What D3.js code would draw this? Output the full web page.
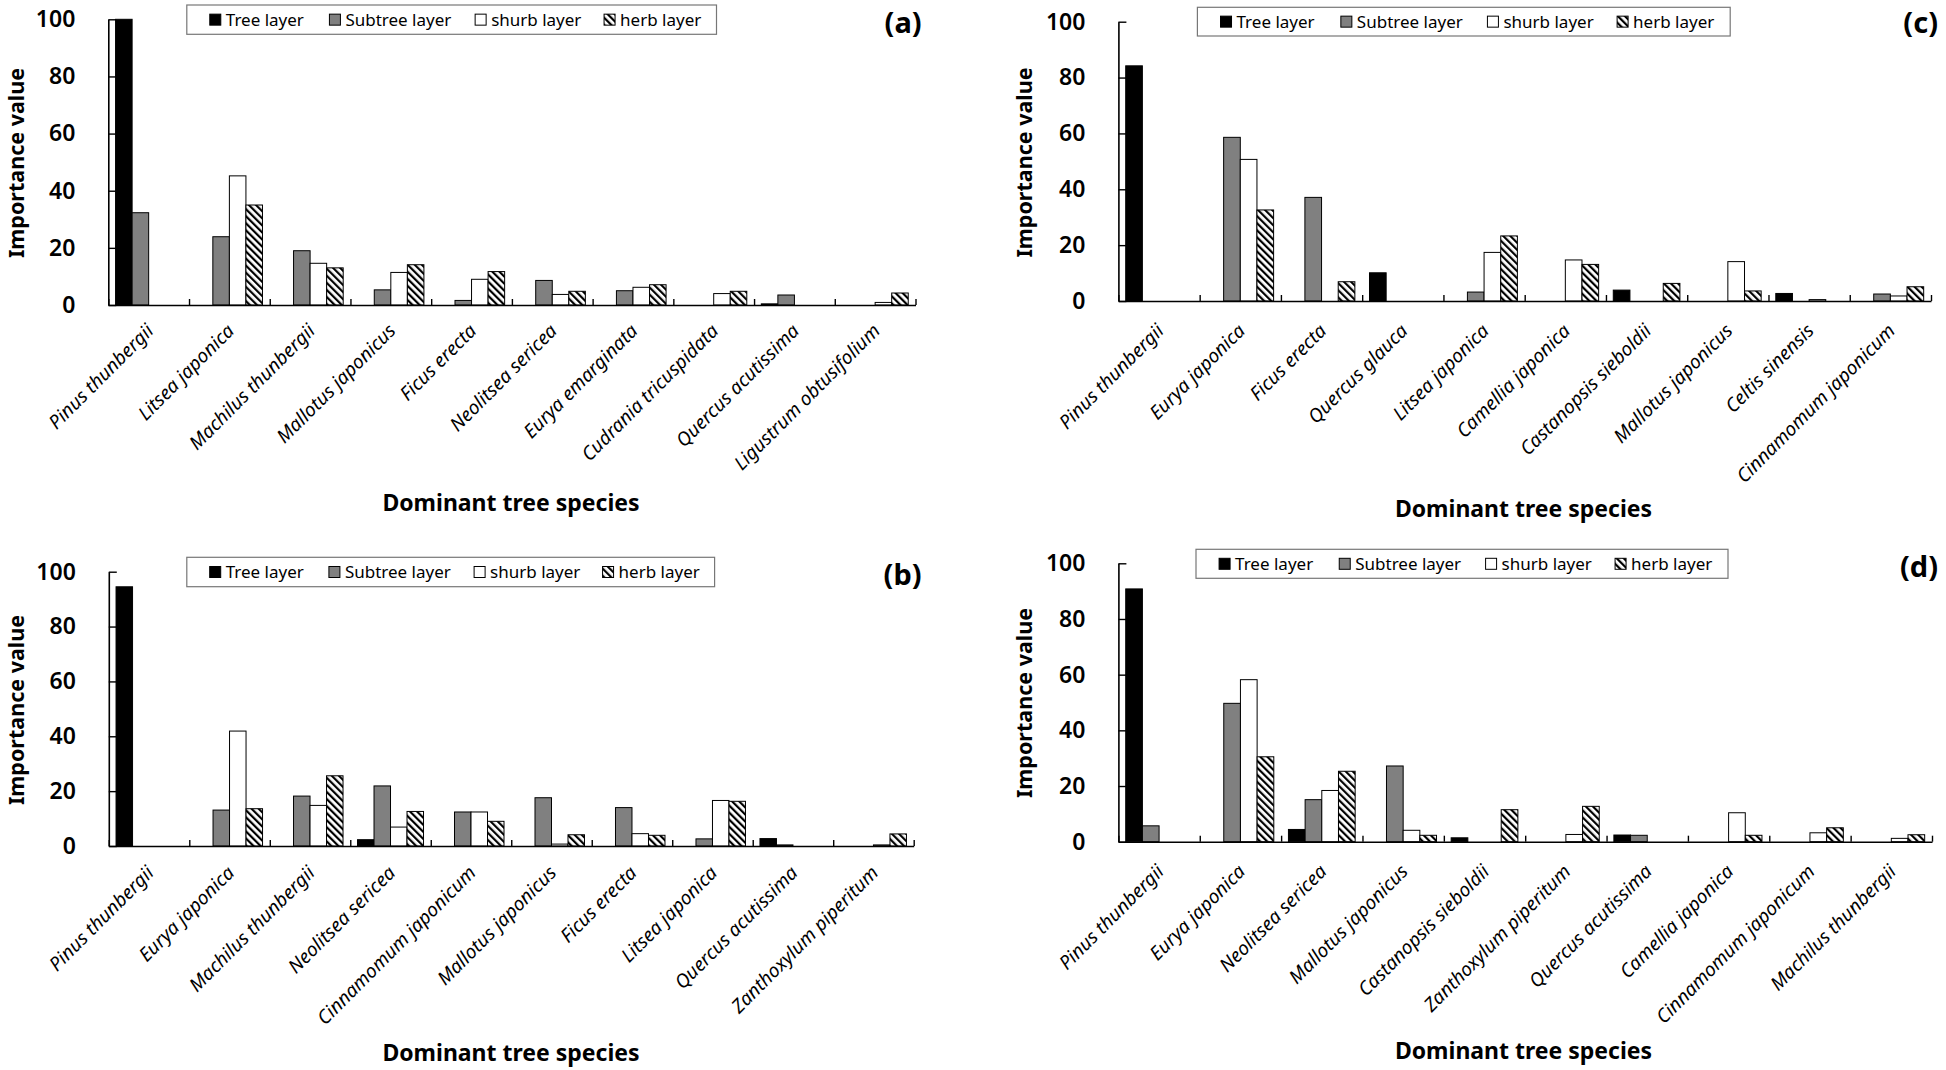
<!DOCTYPE html>
<html><head><meta charset="utf-8">
<script src="https://cdn.jsdelivr.net/npm/d3@7"></script>
<style>
body{margin:0;background:#fff;}
svg{display:block;background:#fff;}
</style></head><body>
<svg id="chart" width="1946" height="1070"></svg>
<script>
// ---------- data ----------
const layers = ["Tree layer", "Subtree layer", "shurb layer", "herb layer"];
const yTicks = [0, 20, 40, 60, 80, 100];
const xTitle = "Dominant tree species";
const yTitle = "Importance value";

const categoriesA = ["Pinus thunbergii","Litsea japonica","Machilus thunbergii","Mallotus japonicus","Ficus erecta","Neolitsea sericea","Eurya emarginata","Cudrania tricuspidata","Quercus acutissima","Ligustrum obtusifolium"];
const treeA    = [100, 0, 0, 0, 0, 0, 0, 0, 0.4, 0];
const subtreeA = [32.3, 23.9, 19.0, 5.3, 1.6, 8.6, 5.0, 0, 3.5, 0];
const shrubA   = [0, 45.2, 14.6, 11.4, 9.0, 3.7, 6.2, 4.0, 0, 0.9];
const herbA    = [0, 35.0, 13.0, 14.1, 11.7, 4.8, 7.1, 4.8, 0, 4.2];

const categoriesB = ["Pinus thunbergii","Eurya japonica","Machilus thunbergii","Neolitsea sericea","Cinnamomum japonicum","Mallotus japonicus","Ficus erecta","Litsea japonica","Quercus acutissima","Zanthoxylum piperitum"];
const treeB    = [94.5, 0, 0, 2.3, 0, 0, 0, 0, 2.7, 0];
const subtreeB = [0, 13.1, 18.2, 21.9, 12.4, 17.6, 14.0, 2.6, 0.4, 0];
const shrubB   = [0, 41.9, 14.8, 6.9, 12.4, 0.7, 4.5, 16.6, 0, 0.4];
const herbB    = [0, 13.6, 25.6, 12.6, 9.0, 4.1, 3.9, 16.3, 0, 4.4];

const categoriesC = ["Pinus thunbergii","Eurya japonica","Ficus erecta","Quercus glauca","Litsea japonica","Camellia japonica","Castanopsis sieboldii","Mallotus japonicus","Celtis sinensis","Cinnamomum japonicum"];
const treeC    = [84.2, 0, 0, 10.1, 0, 0, 3.9, 0, 2.7, 0];
const subtreeC = [0, 58.6, 37.1, 0, 3.2, 0, 0, 0, 0, 2.5];
const shrubC   = [0, 50.7, 0, 0, 17.4, 14.7, 0, 14.1, 0.5, 1.8];
const herbC    = [0, 32.6, 6.9, 0, 23.3, 13.1, 6.3, 3.6, 0, 5.1];

const categoriesD = ["Pinus thunbergii","Eurya japonica","Neolitsea sericea","Mallotus japonicus","Castanopsis sieboldii","Zanthoxylum piperitum","Quercus acutissima","Camellia japonica","Cinnamomum japonicum","Machilus thunbergii"];
const treeD    = [90.8, 0, 4.4, 0, 1.4, 0, 2.4, 0, 0, 0];
const subtreeD = [5.7, 49.7, 15.1, 27.2, 0, 0, 2.3, 0, 0, 0];
const shrubD   = [0, 58.2, 18.4, 4.1, 0, 2.6, 0, 10.4, 3.2, 1.2];
const herbD    = [0, 30.5, 25.3, 2.3, 11.5, 12.7, 0, 2.3, 5.0, 2.5];

// ---------- layout (positions / styles) ----------
const FONT = "'Noto Sans', 'DejaVu Sans', sans-serif";
const fills = ["#000000", "#808080", "#ffffff", "url(#hatch)"];
const legendOffsets = [23, 142.7, 288.5, 417.5];

const panels = [
  {tag:"(a)", cats:categoriesA, series:[treeA, subtreeA, shrubA, herbA],
   x0:108.3, x1:915.5, yTop:19.3, y0:305,
   leg:{x:186.8, y:5, w:529.7, h:29.3}, tagX:921.6, tagY:21,
   yTitleX:15, yTitleY:163, xTitleX:511, xTitleY:502, catDy:27},
  {tag:"(b)", cats:categoriesB, series:[treeB, subtreeB, shrubB, herbB],
   x0:108.8, x1:913.7, yTop:571.7, y0:846,
   leg:{x:186.8, y:557.3, w:527.8, h:29.4}, tagX:921.6, tagY:573,
   yTitleX:15, yTitleY:710, xTitleX:511, xTitleY:1051.5, catDy:28},
  {tag:"(c)", cats:categoriesC, series:[treeC, subtreeC, shrubC, herbC],
   x0:1118.4, x1:1931, yTop:21.7, y0:301,
   leg:{x:1197.4, y:7.3, w:532.8, h:28.7}, tagX:1938, tagY:21,
   yTitleX:1023, yTitleY:162.5, xTitleX:1523.5, xTitleY:508, catDy:31},
  {tag:"(d)", cats:categoriesD, series:[treeD, subtreeD, shrubD, herbD],
   x0:1118.4, x1:1932, yTop:563.3, y0:841.7,
   leg:{x:1196, y:549.3, w:532, h:29}, tagX:1938, tagY:565,
   yTitleX:1023, yTitleY:703, xTitleX:1523.5, xTitleY:1050, catDy:31}
];

const svg = d3.select("#chart");
const defs = svg.append("defs");
const pat = defs.append("pattern").attr("id","hatch").attr("patternUnits","userSpaceOnUse")
  .attr("width",5).attr("height",5).attr("patternTransform","rotate(-45)");
pat.append("rect").attr("width",5).attr("height",5).attr("fill","#fff");
pat.append("rect").attr("x",0).attr("y",0).attr("width",2.2).attr("height",5).attr("fill","#000");

svg.append("rect").attr("width",1946).attr("height",1070).attr("fill","#fff");

panels.forEach(p => {
  const g = svg.append("g");
  const x = d3.scaleBand().domain(p.cats).range([p.x0, p.x1]).paddingInner(0.18).paddingOuter(0.09);
  const xs = d3.scaleBand().domain(layers).range([0, x.bandwidth()]);
  const y = d3.scaleLinear().domain([0, 100]).range([p.y0, p.yTop]);
  const xb = d3.scaleLinear().domain([0, p.cats.length]).range([p.x0, p.x1]);

  // bars
  layers.forEach((layer, li) => {
    g.append("g").selectAll("rect")
      .data(p.cats.map((c, i) => ({c, v: p.series[li][i]})).filter(d => d.v > 0))
      .join("rect")
      .attr("x", d => x(d.c) + xs(layer))
      .attr("width", xs.bandwidth())
      .attr("y", d => y(d.v))
      .attr("height", d => y(0) - y(d.v))
      .attr("fill", fills[li])
      .attr("stroke", "#000").attr("stroke-width", 1);
  });

  // y axis
  const ya = g.append("g").attr("transform", `translate(${p.x0},0)`)
    .call(d3.axisLeft(y).tickValues(yTicks).tickSizeInner(-8).tickSizeOuter(0).tickPadding(33));
  ya.select(".domain").attr("stroke","#000").attr("stroke-width",1.6);
  ya.selectAll(".tick line").attr("stroke","#000").attr("stroke-width",1.4);
  ya.selectAll(".tick text").attr("fill","#000").style("font-family",FONT)
    .style("font-size","23px").style("font-weight","600");

  // x axis with boundary ticks
  const xa = g.append("g").attr("transform", `translate(0,${p.y0})`)
    .call(d3.axisBottom(xb).tickValues(d3.range(p.cats.length + 1)).tickSizeInner(-6).tickSizeOuter(0).tickFormat(""));
  xa.select(".domain").attr("stroke","#000").attr("stroke-width",1.6);
  xa.selectAll(".tick line").attr("stroke","#000").attr("stroke-width",1.4);

  // category labels
  g.append("g").selectAll("text").data(p.cats).join("text")
    .attr("transform", d => `translate(${x(d) + x.bandwidth()/2 + 6},${p.y0 + p.catDy}) rotate(-45)`)
    .attr("text-anchor","end")
    .style("font-family",FONT).style("font-style","italic").style("font-size","19px")
    .text(d => d);

  // titles
  g.append("text").attr("x", p.xTitleX).attr("y", p.xTitleY)
    .attr("text-anchor","middle").attr("dominant-baseline","central")
    .style("font-family",FONT).style("font-weight","bold").style("font-size","23px").text(xTitle);
  g.append("text").attr("transform", `translate(${p.yTitleX},${p.yTitleY}) rotate(-90)`)
    .attr("text-anchor","middle").attr("dominant-baseline","central")
    .style("font-family",FONT).style("font-weight","bold").style("font-size","21.5px").text(yTitle);
  g.append("text").attr("x", p.tagX).attr("y", p.tagY)
    .attr("text-anchor","end").attr("dominant-baseline","central")
    .style("font-family",FONT).style("font-weight","bold").style("font-size","29px").text(p.tag);

  // legend
  const lg = g.append("g").attr("transform", `translate(${p.leg.x},${p.leg.y})`);
  lg.append("rect").attr("width", p.leg.w).attr("height", p.leg.h)
    .attr("fill","#fff").attr("stroke","#777").attr("stroke-width",1.2);
  layers.forEach((layer, li) => {
    const ox = legendOffsets[li] * p.leg.w / 530;
    lg.append("rect").attr("x", ox).attr("y", p.leg.h/2 - 5.5).attr("width", 11).attr("height", 11)
      .attr("fill", fills[li]).attr("stroke","#000").attr("stroke-width",1);
    lg.append("text").attr("x", ox + 16).attr("y", p.leg.h/2).attr("dominant-baseline","central")
      .style("font-family",FONT).style("font-size","17px").text(layer);
  });
});
</script>
</body></html>
